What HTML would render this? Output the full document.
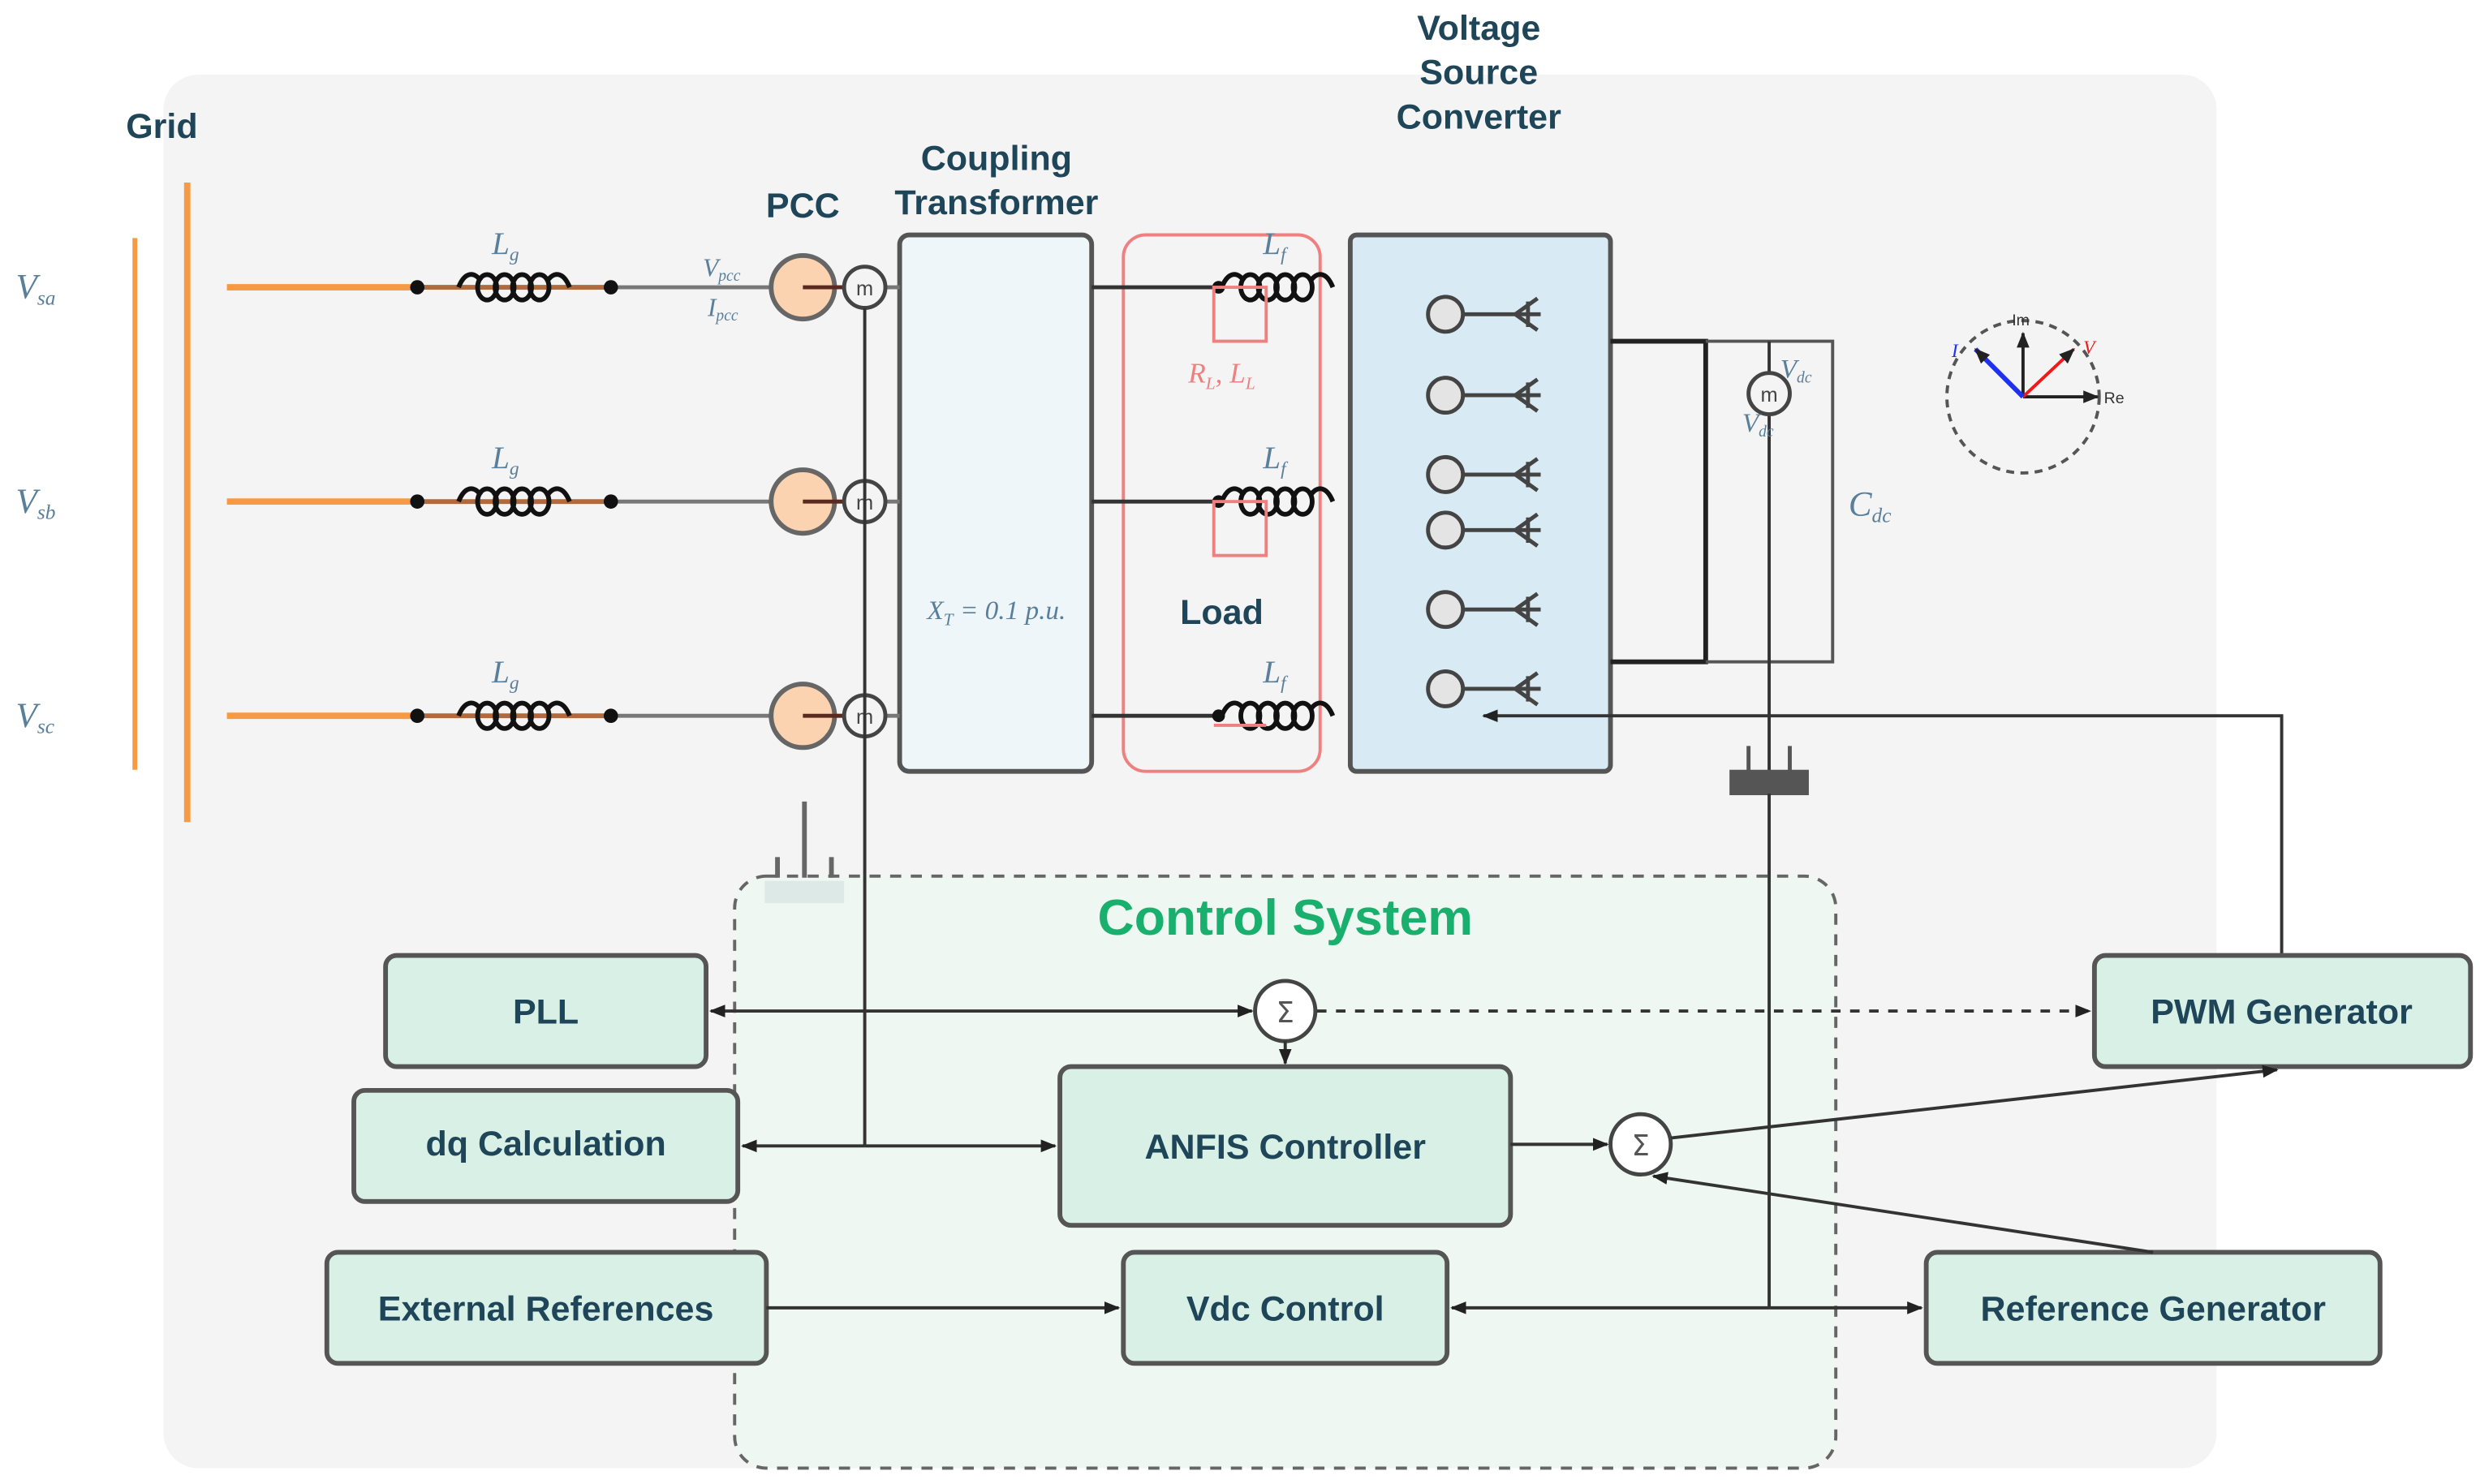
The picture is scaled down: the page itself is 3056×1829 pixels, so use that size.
<!DOCTYPE html>
<html><head><meta charset="utf-8"><style>
html,body{margin:0;padding:0;background:#fff;}
svg{display:block;}
.bx{fill:#d8f0e6;stroke:#555;stroke-width:3;}
.bt{font-family:"Liberation Sans",sans-serif;font-weight:bold;fill:#1f4559;font-size:22px;text-anchor:middle;}
.hd{font-family:"Liberation Sans",sans-serif;font-weight:bold;fill:#1f4559;font-size:22px;text-anchor:middle;}
.mi{font-family:"Liberation Serif",serif;font-style:italic;fill:#5a7f9a;}
.ln{stroke:#333;stroke-width:2;fill:none;}
</style></head><body>
<svg width="3056" height="1829" viewBox="0 0 1563 935" preserveAspectRatio="none" xmlns="http://www.w3.org/2000/svg">
<defs>
<marker id="ar" markerWidth="10" markerHeight="10" refX="9" refY="5" orient="auto" markerUnits="userSpaceOnUse"><path d="M0,1 L10,5 L0,9 Z" fill="#222"/></marker>
<g id="ind"><path d="M0,0 C4,-10 10,-10 14,-4" stroke="#111" stroke-width="3" fill="none"/>
<ellipse cx="18" cy="0" rx="6" ry="8" stroke="#111" stroke-width="3" fill="none"/>
<ellipse cx="29" cy="0" rx="6" ry="8" stroke="#111" stroke-width="3" fill="none"/>
<ellipse cx="40" cy="0" rx="6" ry="8" stroke="#111" stroke-width="3" fill="none"/>
<ellipse cx="51" cy="0" rx="6" ry="8" stroke="#111" stroke-width="3" fill="none"/>
<path d="M56,-4 C60,-10 66,-10 70,0" stroke="#111" stroke-width="3" fill="none"/></g>
<g id="sw"><circle cx="0" cy="0" r="11" fill="#e4e4e4" stroke="#444" stroke-width="2.5"/><line x1="11" y1="0" x2="60" y2="0" stroke="#444" stroke-width="2.5"/><path d="M58,-10 L44,0 L58,10 M52,-8 L52,8" stroke="#444" stroke-width="2.5" fill="none"/></g>
<g id="ph">
<line x1="143" y1="0" x2="263" y2="0" stroke="#f79a45" stroke-width="4"/>
<line x1="263" y1="0" x2="385" y2="0" stroke="#b06a40" stroke-width="3"/>
<line x1="385" y1="0" x2="567" y2="0" stroke="#777" stroke-width="2.5"/>
<circle cx="263" cy="0" r="4.5" fill="#111"/><circle cx="385" cy="0" r="4.5" fill="#111"/>
<use href="#ind" x="289" y="0"/>
<circle cx="506" cy="0" r="20" fill="#fbd3b0" stroke="#666" stroke-width="3"/>
<line x1="506" y1="0" x2="545" y2="0" stroke="#5a2a20" stroke-width="2.5"/>
<circle cx="545" cy="0" r="13" fill="#f4f4f4" stroke="#444" stroke-width="2.5"/>
<text x="545" y="5" font-family="Liberation Sans,sans-serif" font-size="13" fill="#444" text-anchor="middle">m</text>
<line x1="688" y1="0" x2="768" y2="0" stroke="#333" stroke-width="2.5"/>
<use href="#ind" x="770" y="0"/>
<circle cx="768" cy="0" r="4" fill="#111"/>
</g>
</defs>
<rect x="103" y="47" width="1294" height="878" rx="22" fill="#f4f4f4"/>
<text x="102" y="87" class="hd" font-size="21">Grid</text>
<line x1="85" y1="150" x2="85" y2="485" stroke="#f79a45" stroke-width="3"/>
<line x1="118" y1="115" x2="118" y2="518" stroke="#f79a45" stroke-width="4"/>
<g font-size="22"><text x="10" y="188" class="mi">V<tspan font-size="13" dy="4">sa</tspan></text>
<text x="10" y="323" class="mi">V<tspan font-size="13" dy="4">sb</tspan></text>
<text x="10" y="458" class="mi">V<tspan font-size="13" dy="4">sc</tspan></text></g>
<text x="506" y="137" class="hd">PCC</text>
<text x="628" y="107" class="hd">Coupling</text>
<text x="628" y="135" class="hd">Transformer</text>
<text x="932" y="25" class="hd">Voltage</text>
<text x="932" y="53" class="hd">Source</text>
<text x="932" y="81" class="hd">Converter</text>
<rect x="463" y="552" width="694" height="373" rx="20" fill="#eef7f2" stroke="#666" stroke-width="2" stroke-dasharray="7,6"/>
<rect x="482" y="555" width="50" height="14" fill="#dde9e6"/>
<g stroke="#666" stroke-width="3"><line x1="490" y1="553" x2="490" y2="540"/><line x1="507" y1="553" x2="507" y2="505"/><line x1="524" y1="553" x2="524" y2="540"/></g>
<text x="810" y="589" font-family="Liberation Sans,sans-serif" font-weight="bold" font-size="32" fill="#19b06e" text-anchor="middle">Control System</text>
<rect x="567" y="148" width="121" height="338" rx="6" fill="#eef6fa" stroke="#555" stroke-width="3"/>
<text x="628" y="390" class="mi" font-size="17" text-anchor="middle">X<tspan font-size="11" dy="4">T</tspan><tspan dy="-4"> = 0.1 p.u.</tspan></text>
<rect x="708" y="148" width="124" height="338" rx="14" fill="none" stroke="#f08080" stroke-width="2"/>
<text x="770" y="393" class="hd" font-size="21">Load</text>
<text x="770" y="241" class="mi" font-size="18" style="fill:#f08080" text-anchor="middle">R<tspan font-size="11" dy="4">L</tspan><tspan dy="-4">, L</tspan><tspan font-size="11" dy="4">L</tspan></text>
<rect x="851" y="148" width="164" height="338" rx="4" fill="#d8ebf4" stroke="#555" stroke-width="3"/>
<use href="#ph" y="181"/><use href="#ph" y="316"/><use href="#ph" y="451"/>
<g font-size="20" class="mi">
<text x="310" y="160" class="mi">L<tspan font-size="12" dy="4">g</tspan></text>
<text x="310" y="295" class="mi">L<tspan font-size="12" dy="4">g</tspan></text>
<text x="310" y="430" class="mi">L<tspan font-size="12" dy="4">g</tspan></text>
<text x="796" y="160" class="mi">L<tspan font-size="12" dy="4">f</tspan></text>
<text x="796" y="295" class="mi">L<tspan font-size="12" dy="4">f</tspan></text>
<text x="796" y="430" class="mi">L<tspan font-size="12" dy="4">f</tspan></text>
</g>
<text x="443" y="174" class="mi" font-size="16">V<tspan font-size="10" dy="3">pcc</tspan></text>
<text x="446" y="199" class="mi" font-size="16">I<tspan font-size="10" dy="3">pcc</tspan></text>
<g fill="none" stroke="#f08080" stroke-width="2"><rect x="765" y="181" width="33" height="34"/><rect x="765" y="316" width="33" height="34"/><line x1="765" y1="457" x2="798" y2="457"/></g>
<use href="#sw" x="911" y="198"/><use href="#sw" x="911" y="249"/><use href="#sw" x="911" y="299"/>
<use href="#sw" x="911" y="334"/><use href="#sw" x="911" y="384"/><use href="#sw" x="911" y="434"/>
<path d="M1015,215 H1075 V417 H1015" stroke="#222" stroke-width="3" fill="none"/>
<path d="M1075,215 H1155 V417 H1075" stroke="#555" stroke-width="2" fill="none"/>
<line x1="1115" y1="215" x2="1115" y2="500" stroke="#333" stroke-width="2"/>
<circle cx="1115" cy="248" r="13" fill="#f4f4f4" stroke="#444" stroke-width="2.5"/>
<text x="1115" y="253" font-family="Liberation Sans,sans-serif" font-size="13" fill="#444" text-anchor="middle">m</text>
<text x="1122" y="238" class="mi" font-size="17">V<tspan font-size="10" dy="3">dc</tspan></text>
<text x="1098" y="272" class="mi" font-size="17">V<tspan font-size="10" dy="3">dc</tspan></text>
<text x="1165" y="325" class="mi" font-size="22">C<tspan font-size="13" dy="4">dc</tspan></text>
<rect x="1090" y="485" width="50" height="16" fill="#555"/>
<line x1="1102" y1="470" x2="1102" y2="486" stroke="#555" stroke-width="2.5"/><line x1="1128" y1="470" x2="1128" y2="486" stroke="#555" stroke-width="2.5"/>
<line x1="1115" y1="500" x2="1115" y2="824" stroke="#333" stroke-width="2"/>
<circle cx="1275" cy="250" r="48" fill="none" stroke="#555" stroke-width="2" stroke-dasharray="5,4"/>
<line x1="1275" y1="250" x2="1275" y2="210" stroke="#222" stroke-width="2" marker-end="url(#ar)"/>
<line x1="1275" y1="250" x2="1322" y2="250" stroke="#222" stroke-width="2" marker-end="url(#ar)"/>
<line x1="1275" y1="250" x2="1307" y2="220" stroke="#f01818" stroke-width="2" marker-end="url(#ar)"/>
<line x1="1275" y1="250" x2="1245" y2="220" stroke="#2030f0" stroke-width="3" marker-end="url(#ar)"/>
<text x="1268" y="205" font-family="Liberation Sans,sans-serif" font-size="10" fill="#333">Im</text>
<text x="1326" y="254" font-family="Liberation Sans,sans-serif" font-size="10" fill="#333">Re</text>
<text x="1313" y="223" class="mi" font-size="12" style="fill:#f01818">V</text>
<text x="1230" y="225" class="mi" font-size="12" style="fill:#2030f0">I</text>
<path d="M1438,602 V451 H935" class="ln" marker-end="url(#ar)"/>
<line x1="545" y1="194" x2="545" y2="722" stroke="#333" stroke-width="2"/>
<rect class="bx" x="243" y="602" width="202" height="70" rx="7"/><text class="bt" x="344" y="645">PLL</text>
<rect class="bx" x="223" y="687" width="242" height="70" rx="7"/><text class="bt" x="344" y="728">dq Calculation</text>
<rect class="bx" x="206" y="789" width="277" height="70" rx="7"/><text class="bt" x="344" y="832">External References</text>
<rect class="bx" x="668" y="672" width="284" height="100" rx="7"/><text class="bt" x="810" y="730">ANFIS Controller</text>
<rect class="bx" x="708" y="789" width="204" height="70" rx="7"/><text class="bt" x="810" y="832">Vdc Control</text>
<rect class="bx" x="1320" y="602" width="237" height="70" rx="7"/><text class="bt" x="1438" y="645">PWM Generator</text>
<rect class="bx" x="1214" y="789" width="286" height="70" rx="7"/><text class="bt" x="1357" y="832">Reference Generator</text>
<circle cx="810" cy="637" r="19" fill="#fff" stroke="#444" stroke-width="2.5"/><text x="810" y="644" font-family="DejaVu Sans,sans-serif" font-size="18" fill="#555" text-anchor="middle">Σ</text>
<circle cx="1034" cy="721" r="19" fill="#fff" stroke="#444" stroke-width="2.5"/><text x="1034" y="728" font-family="DejaVu Sans,sans-serif" font-size="18" fill="#555" text-anchor="middle">Σ</text>
<line x1="545" y1="637" x2="448" y2="637" class="ln" marker-end="url(#ar)"/>
<line x1="545" y1="637" x2="789" y2="637" class="ln" marker-end="url(#ar)"/>
<line x1="810" y1="656" x2="810" y2="670" class="ln" marker-end="url(#ar)"/>
<line x1="830" y1="637" x2="1317" y2="637" class="ln" stroke-dasharray="6,6" marker-end="url(#ar)"/>
<line x1="545" y1="722" x2="468" y2="722" class="ln" marker-end="url(#ar)"/>
<line x1="545" y1="722" x2="665" y2="722" class="ln" marker-end="url(#ar)"/>
<line x1="952" y1="721" x2="1013" y2="721" class="ln" marker-end="url(#ar)"/>
<line x1="1053" y1="717" x2="1435" y2="674" class="ln" marker-end="url(#ar)"/>
<line x1="1357" y1="789" x2="1042" y2="741" class="ln" marker-end="url(#ar)"/>
<line x1="483" y1="824" x2="705" y2="824" class="ln" marker-end="url(#ar)"/>
<line x1="1115" y1="824" x2="915" y2="824" class="ln" marker-end="url(#ar)"/>
<line x1="1115" y1="824" x2="1211" y2="824" class="ln" marker-end="url(#ar)"/>
</svg>
</body></html>
